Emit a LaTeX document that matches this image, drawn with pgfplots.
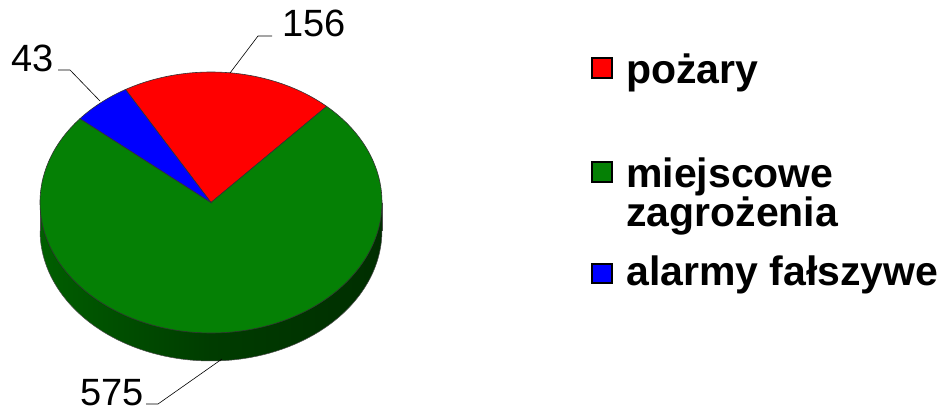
\documentclass[border=0pt]{standalone}
\usepackage{fontspec}
\setmainfont{Liberation Sans}
\usepackage{pgfplots}
\pgfplotsset{compat=1.18}
\definecolor{pred}{HTML}{FF0000}
\definecolor{pgreen}{HTML}{058005}
\definecolor{pblue}{HTML}{0000FF}
\definecolor{sideL}{HTML}{005E00}
\definecolor{sideM}{HTML}{003C00}
\definecolor{sideR}{HTML}{002E00}
\begin{document}
\begin{tikzpicture}
% data
\def\vA{156}\def\vB{575}\def\vC{43}
\pgfmathsetmacro\tot{\vA+\vB+\vC}
\pgfmathsetmacro\aS{120}
\pgfmathsetmacro\aA{\aS-360*(\vA/\tot)}
\pgfmathsetmacro\aB{\aA-360*(\vB/\tot)}
\pgfmathsetmacro\aBe{\aB+360}
\begin{axis}[name=ax,
  width=949pt, height=414pt, scale only axis,
  xmin=0, xmax=949, ymin=0, ymax=414, y dir=reverse,
  hide axis, clip=false]
% side of the pie
\addplot[draw=none, left color=sideL, right color=sideR, middle color=sideM,
  domain=0:360, samples=150, variable=\t]
  ({211+171*cos(t)},{230.5-130.5*sin(t)}) -- cycle;
\addplot[draw=none, left color=sideL, right color=sideR, middle color=sideM]
  coordinates {(40,202.5) (382,202.5) (382,230.5) (40,230.5)} -- cycle;
\addplot[draw=black!70, line width=0.5pt, domain=180:360, samples=100, variable=\t]
  ({211+171*cos(t)},{230.5-130.5*sin(t)});
\addplot[draw=black!70, line width=0.5pt] coordinates {(40,202.5) (40,230.5)};
\addplot[draw=black!70, line width=0.5pt] coordinates {(382,202.5) (382,230.5)};
% top sectors
\addplot[fill=pred, draw=black!80, line width=0.6pt, domain=\aA:\aS, samples=60, variable=\t]
  ({211+171*cos(t)},{202.5-130.5*sin(t)}) -- (axis cs:211,202.5) -- cycle;
\addplot[fill=pgreen, draw=black!80, line width=0.6pt, domain=\aB:\aA, samples=200, variable=\t]
  ({211+171*cos(t)},{202.5-130.5*sin(t)}) -- (axis cs:211,202.5) -- cycle;
\addplot[fill=pblue, draw=black!80, line width=0.6pt, domain=\aS:\aBe, samples=30, variable=\t]
  ({211+171*cos(t)},{202.5-130.5*sin(t)}) -- (axis cs:211,202.5) -- cycle;
% data labels with leader lines
\draw[black, line width=0.6pt] (axis cs:230,73) -- (axis cs:258,36) -- (axis cs:272,36);
\node[anchor=base west, inner sep=0pt, font=\fontsize{38}{40}\selectfont] at (axis cs:282,37) {156};
\draw[black, line width=0.6pt] (axis cs:100,101) -- (axis cs:70,70) -- (axis cs:58,70);
\node[anchor=base west, inner sep=0pt, font=\fontsize{38}{40}\selectfont] at (axis cs:11,72) {43};
\draw[black, line width=0.6pt] (axis cs:222,359) -- (axis cs:158,404) -- (axis cs:146,404);
\node[anchor=base west, inner sep=0pt, font=\fontsize{38}{40}\selectfont] at (axis cs:80,405) {575};
% legend
\draw[fill=pred, line width=1.4pt] (axis cs:592,58) rectangle (axis cs:612,78);
\draw[fill=pgreen, line width=1.4pt] (axis cs:592,162) rectangle (axis cs:612,182);
\draw[fill=pblue, line width=1.4pt] (axis cs:592,264) rectangle (axis cs:612,283);
\node[anchor=base west, inner sep=0pt, font=\fontsize{41}{39}\selectfont\bfseries] at (axis cs:626,84) {pożary};
\node[anchor=base west, inner sep=0pt, font=\fontsize{41}{39}\selectfont\bfseries] at (axis cs:626,187) {miejscowe};
\node[anchor=base west, inner sep=0pt, font=\fontsize{41}{39}\selectfont\bfseries] at (axis cs:626,226) {zagrożenia};
\node[anchor=base west, inner sep=0pt, font=\fontsize{41}{39}\selectfont\bfseries] at (axis cs:626,285) {alarmy fałszywe};
\end{axis}
\pgfresetboundingbox
\path (ax.south west) rectangle (ax.north east);
\end{tikzpicture}
\end{document}
